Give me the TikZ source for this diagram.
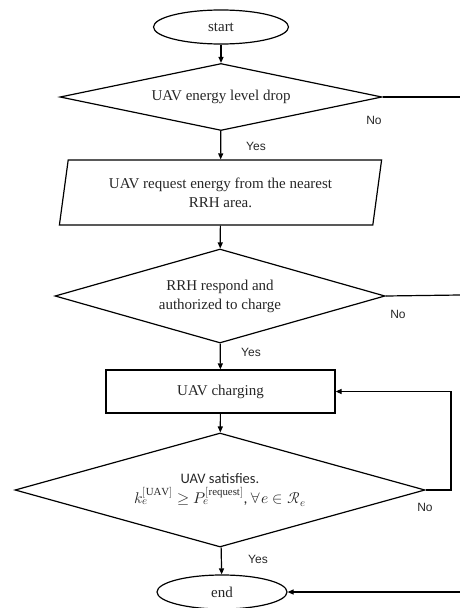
\documentclass[tikz,border=0pt]{standalone}
\usepackage{fontspec}
\usepackage{unicode-math}
\setmainfont{Liberation Serif}
\setsansfont{Liberation Sans}
\newfontfamily\calib{Carlito}
\setmathfont{Latin Modern Math}
\usetikzlibrary{shapes.geometric,arrows.meta}
\tikzset{
  base/.style={draw=black, line width=1.2pt, inner sep=0pt, align=center,
    font=\fontsize{15}{19}\selectfont, text=black!85},
  term/.style={base, ellipse, minimum width=135pt, minimum height=34pt},
  decision/.style={base, diamond},
  process/.style={base, rectangle, minimum width=229pt, minimum height=43pt},
  io/.style={base, trapezium, trapezium left angle=77.8, trapezium right angle=102.2,
    trapezium stretches=true, minimum width=323pt, minimum height=65pt},
  flow/.style={line width=1.2pt, -{Triangle[length=6pt,width=5pt]}},
  link/.style={line width=1.2pt},
  lab/.style={font=\sffamily\fontsize{12}{14}\selectfont, text=black!85, inner sep=0pt},
}
\begin{document}
\begin{tikzpicture}[x=1pt,y=-1pt]
\useasboundingbox (0,0) rectangle (460,608);
\node[term] (start) at (221,27) {start};
\node[decision, shape aspect=4.8, minimum width=322pt, minimum height=67pt] (d1) at (221,97) {UAV energy level drop};
\node[io] (req) at (220.5,192.5) {UAV request energy from the nearest\\RRH area.};
\node[decision, shape aspect=3.5, minimum width=330pt, minimum height=94pt] (d2) at (220,296) {RRH respond and\\authorized to charge};
\node[process] (chg) at (220.5,391.5) {UAV charging};
\node[decision, shape aspect=3.6, minimum width=410pt, minimum height=114pt, font=\calib\fontsize{14.5}{19}\selectfont] (d3) at (220,490)
  {UAV satisfies.\\[1pt]\fontsize{15.5}{19}\selectfont$\mathscr{k}_e^{[\mathrm{UAV}]} \geq P_e^{[\mathrm{request}]}$, $\forall e \in \mathcal{R}_e$};
\node[term, minimum width=130pt] (end) at (222,592) {end};

\coordinate (r1) at (460,97);
\coordinate (r2) at (460,295);
\coordinate (r3) at (460,592);
\coordinate (lp) at (451,490);

\draw[flow] (start) -- (d1);
\draw[flow] (d1) -- (req);
\draw[flow] (req) -- (d2);
\draw[flow] (d2) -- (chg);
\draw[flow] (chg) -- (d3);
\draw[flow] (d3) -- (end);
\draw[link] (d1.east) -- (r1);
\draw[link] (d2.east) -- (r2);
\draw[flow] (d3.east) -- (lp) |- (chg.east);
\draw[flow] (r3) -- (end.east);

\node[lab] (no1) at (374,120) {No};
\node[lab] (yes1) at (256,146) {Yes};
\node[lab] (no2) at (398,314) {No};
\node[lab] (yes2) at (251,352) {Yes};
\node[lab] (no3) at (425,507) {No};
\node[lab] (yes3) at (258,559) {Yes};
\end{tikzpicture}
\end{document}
